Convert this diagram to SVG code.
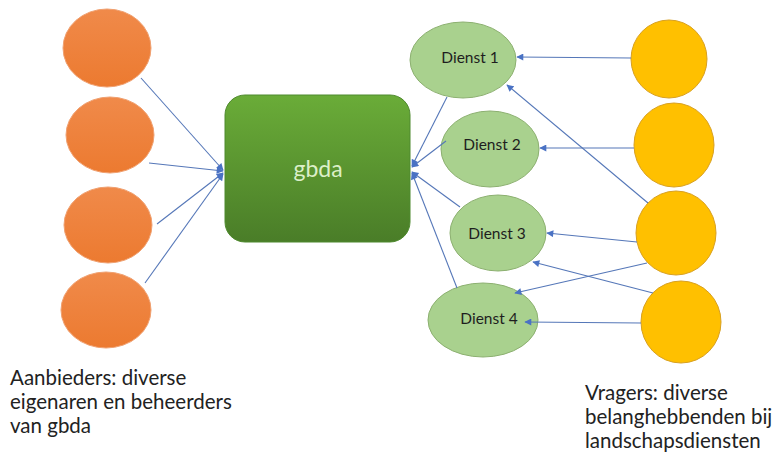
<svg xmlns="http://www.w3.org/2000/svg" width="777" height="454" viewBox="0 0 777 454">
  <style>
    .prov { fill: url(#orangeFill); stroke: #f0a070; stroke-width: 1; }
    .dienst { fill: #a9d18e; stroke: #8cb070; stroke-width: 1; }
    .vrager { fill: #ffc000; stroke: #d8a020; stroke-width: 1; }
    .lbl { font-family: Lato, "Liberation Sans", sans-serif; font-size: 20.5px; fill: #222; }
    .dlbl { font-family: Lato, "Liberation Sans", sans-serif; font-size: 15.5px; fill: #1e1e1e; text-anchor: middle; }
    .conn line { stroke: #5577b8; stroke-width: 1.1; }
  </style>
  <defs>
    <linearGradient id="orangeFill" x1="0" y1="0" x2="0" y2="1">
      <stop offset="0" stop-color="#f08a4a"/>
      <stop offset="1" stop-color="#ec7a30"/>
    </linearGradient>
    <linearGradient id="greenFill" x1="0" y1="0" x2="0" y2="1">
      <stop offset="0" stop-color="#6aac38"/>
      <stop offset="1" stop-color="#4a7d28"/>
    </linearGradient>
    <marker id="arrow" viewBox="0 0 10 10" refX="9" refY="5" markerWidth="9" markerHeight="7" markerUnits="userSpaceOnUse" orient="auto">
      <path d="M0,0 L10,5 L0,10 z" fill="#4a72c4"/>
    </marker>
  </defs>

  <!-- providers -->
  <g id="aanbieder1"><ellipse class="prov" cx="107" cy="48" rx="44" ry="39"/></g>
  <g id="aanbieder2"><ellipse class="prov" cx="110" cy="135" rx="44" ry="38"/></g>
  <g id="aanbieder3"><ellipse class="prov" cx="108" cy="225" rx="44" ry="38"/></g>
  <g id="aanbieder4"><ellipse class="prov" cx="106" cy="310" rx="45" ry="38"/></g>

  <!-- central register -->
  <g id="gbda">
    <rect x="225" y="95" width="185" height="147" rx="20" ry="20" fill="url(#greenFill)" stroke="#4f8a2e" stroke-width="1"/>
    <text x="318" y="177" font-family="Lato, 'Liberation Sans', sans-serif" font-size="23" fill="#dcefc8" text-anchor="middle">gbda</text>
  </g>

  <!-- services -->
  <g id="dienst1"><ellipse class="dienst" cx="463" cy="60" rx="53" ry="38"/><text class="dlbl" x="470" y="63">Dienst 1</text></g>
  <g id="dienst2"><ellipse class="dienst" cx="490" cy="149" rx="49" ry="38"/><text class="dlbl" x="492" y="150">Dienst 2</text></g>
  <g id="dienst3"><ellipse class="dienst" cx="498" cy="233" rx="48" ry="38"/><text class="dlbl" x="497" y="239">Dienst 3</text></g>
  <g id="dienst4"><ellipse class="dienst" cx="483" cy="320" rx="55" ry="37"/><text class="dlbl" x="489" y="324">Dienst 4</text></g>

  <!-- requesters -->
  <g id="vrager1"><ellipse class="vrager" cx="669" cy="59" rx="38" ry="39"/></g>
  <g id="vrager2"><ellipse class="vrager" cx="674" cy="145" rx="40" ry="42"/></g>
  <g id="vrager3"><ellipse class="vrager" cx="676" cy="233" rx="40" ry="42"/></g>
  <g id="vrager4"><ellipse class="vrager" cx="681" cy="322" rx="40" ry="41"/></g>

  <!-- connectors -->
  <g id="connectors" class="conn">
    <line x1="141" y1="78" x2="223" y2="170" marker-end="url(#arrow)"/>
    <line x1="149" y1="163" x2="223" y2="171" marker-end="url(#arrow)"/>
    <line x1="157" y1="224" x2="223" y2="173" marker-end="url(#arrow)"/>
    <line x1="145" y1="283" x2="223" y2="174" marker-end="url(#arrow)"/>

    <line x1="447" y1="97" x2="412" y2="166" marker-end="url(#arrow)"/>
    <line x1="446" y1="141" x2="412" y2="167" marker-end="url(#arrow)"/>
    <line x1="460" y1="207" x2="412" y2="172" marker-end="url(#arrow)"/>
    <line x1="457" y1="288" x2="412" y2="173" marker-end="url(#arrow)"/>

    <line x1="631" y1="58" x2="517" y2="57" marker-end="url(#arrow)"/>
    <line x1="634" y1="148" x2="540" y2="148" marker-end="url(#arrow)"/>
    <line x1="648" y1="203" x2="507" y2="85" marker-end="url(#arrow)"/>
    <line x1="637" y1="242" x2="547" y2="233" marker-end="url(#arrow)"/>
    <line x1="647" y1="263" x2="515" y2="293" marker-end="url(#arrow)"/>
    <line x1="653" y1="293" x2="533" y2="262" marker-end="url(#arrow)"/>
    <line x1="641" y1="323" x2="525" y2="322" marker-end="url(#arrow)"/>
  </g>

  <!-- captions -->
  <g id="aanbieders-label">
    <text class="lbl" x="10" y="385">Aanbieders: diverse</text>
    <text class="lbl" x="10" y="409">eigenaren en beheerders</text>
    <text class="lbl" x="10" y="433">van gbda</text>
  </g>
  <g id="vragers-label">
    <text class="lbl" x="585" y="400">Vragers: diverse</text>
    <text class="lbl" x="585" y="424">belanghebbenden bij</text>
    <text class="lbl" x="585" y="448">landschapsdiensten</text>
  </g>
</svg>
